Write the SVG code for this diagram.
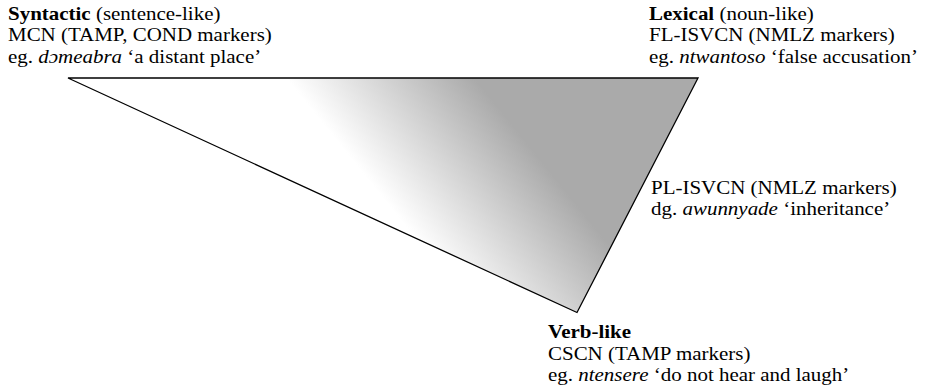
<svg xmlns="http://www.w3.org/2000/svg" width="929" height="388" viewBox="0 0 929 388">
<style>
text{font-family:"Liberation Serif","Times New Roman",serif;font-size:18px;fill:#000}
.b{font-weight:bold}
.i{font-style:italic}
</style>
<defs>
<linearGradient id="shade" gradientUnits="userSpaceOnUse" x1="362" y1="172" x2="476" y2="80">
<stop offset="0" stop-color="#ffffff"/>
<stop offset="1" stop-color="#aaaaaa"/>
</linearGradient>
</defs>
<rect width="929" height="388" fill="#fff"/>
<g id="triangle">
<polygon points="68,78 698,78 577,312.5" fill="url(#shade)" stroke="#000" stroke-width="1.3" stroke-linejoin="miter"/>
</g>
<g id="syntactic" transform="translate(8,0) scale(1.165,1)">
<text x="0" y="20"><tspan class="b">Syntactic</tspan> (sentence-like)</text>
<text x="0" y="41.5">MCN (TAMP, COND markers)</text>
<text x="0" y="63">eg. <tspan class="i">dɔmeabra</tspan> ‘a distant place’</text>
</g>
<g id="lexical" transform="translate(649,0) scale(1.165,1)">
<text x="0" y="20"><tspan class="b">Lexical</tspan> (noun-like)</text>
<text x="0" y="41.5">FL-ISVCN (NMLZ markers)</text>
<text x="0" y="63">eg. <tspan class="i">ntwantoso</tspan> ‘false accusation’</text>
</g>
<g id="plisvcn" transform="translate(651,0) scale(1.165,1)">
<text x="0" y="194">PL-ISVCN (NMLZ markers)</text>
<text x="0" y="215.5">dg. <tspan class="i">awunnyade</tspan> ‘inheritance’</text>
</g>
<g id="verblike" transform="translate(548,0) scale(1.165,1)">
<text x="0" y="338.5" class="b">Verb-like</text>
<text x="0" y="360">CSCN (TAMP markers)</text>
<text x="0" y="381.5">eg. <tspan class="i">ntensere</tspan> ‘do not hear and laugh’</text>
</g>
</svg>
